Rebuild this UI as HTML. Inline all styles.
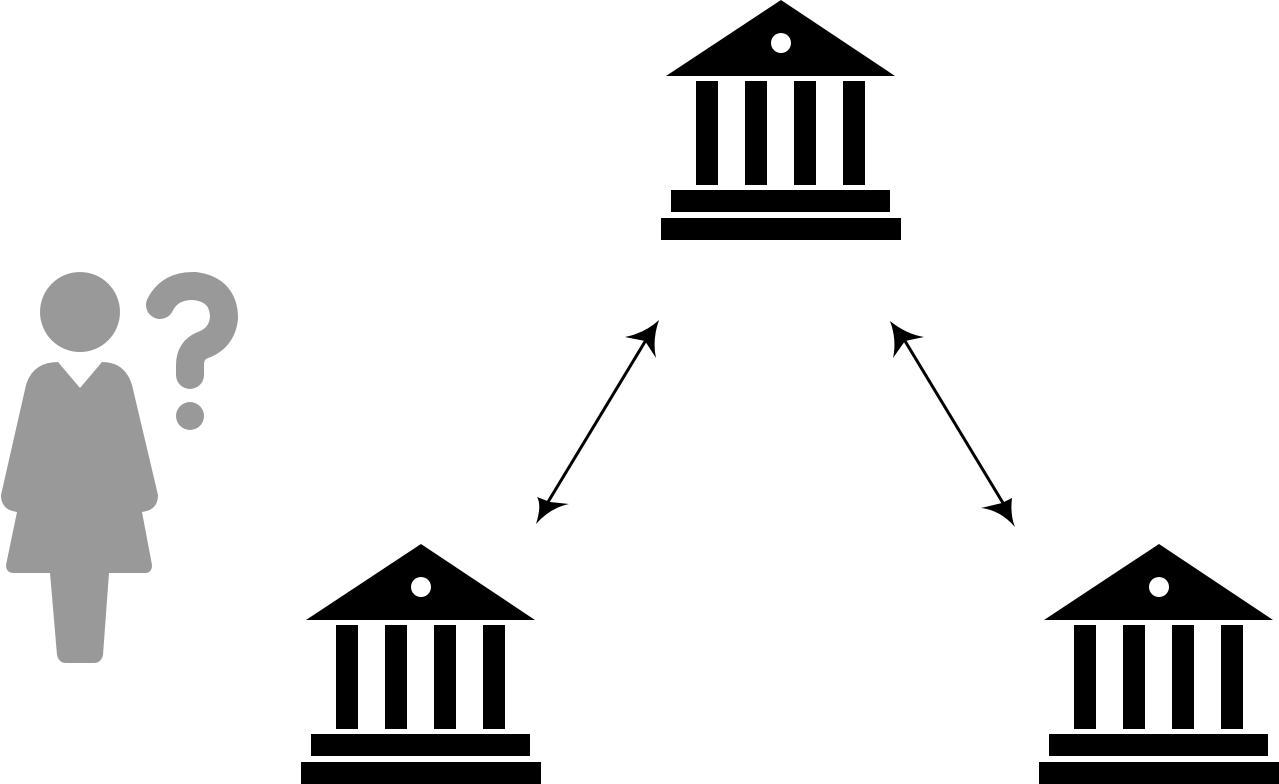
<!DOCTYPE html>
<html><head><style>html,body{margin:0;padding:0;background:#fff;}svg{display:block}</style></head>
<body>
<svg width="1279" height="784" viewBox="0 0 1279 784" xmlns="http://www.w3.org/2000/svg">
<defs>
<g id="bank">
<polygon points="0,76 115,0 229,76" fill="#000"/>
<circle cx="115" cy="43" r="10" fill="#fff"/>
<rect x="30" y="81" width="22" height="104"/>
<rect x="79" y="81" width="22" height="104"/>
<rect x="128" y="81" width="22" height="104"/>
<rect x="177" y="81" width="22" height="104"/>
<rect x="5" y="190" width="219" height="22"/>
<rect x="-5" y="218" width="240" height="22"/>
</g>
</defs>
<use href="#bank" x="666" y="0"/>
<use href="#bank" x="306" y="544"/>
<use href="#bank" x="1044" y="544"/>
<g stroke="#000" stroke-width="3">
<line x1="548" y1="502" x2="646" y2="340"/>
<line x1="905" y1="341" x2="1003" y2="503"/>
</g>
<g fill="#000">
<path d="M659,320 Q652,340 656,358 L645,341 L625,337 Q645,333 659,320Z"/>
<path d="M536,524 Q542,505 537,497 L550,502 L569,504 Q550,508 536,524Z"/>
<path d="M890,321 Q906,334 924,337 L905,341 L893,358 Q897,340 890,321Z"/>
<path d="M1015,527 Q1000,510 981,508 L1002,503 L1012,498 Q1010,515 1015,527Z"/>
</g>
<g fill="#999">
<circle cx="80" cy="312" r="40"/>
<path d="M58,362 L80,388 L102,362 Q125,362 132,385 L158,495 Q158,510 142,512 L152,565 Q152,573 145,573 L109,573 L103,655 Q101,663 94,663 L66,663 Q59,663 57,655 L50,573 L14,573 Q6,573 6,565 L17,512 Q1,510 1,495 L26,385 Q33,362 58,362Z"/>
<circle cx="190" cy="416" r="14"/>
</g>
<path d="M160,305 Q170,285 195,286 Q224,290 224,318 Q222,338 203,345 Q190,350 190,365 L190,375" fill="none" stroke="#999" stroke-width="28" stroke-linecap="round" stroke-linejoin="round"/>
</svg>
</body></html>
